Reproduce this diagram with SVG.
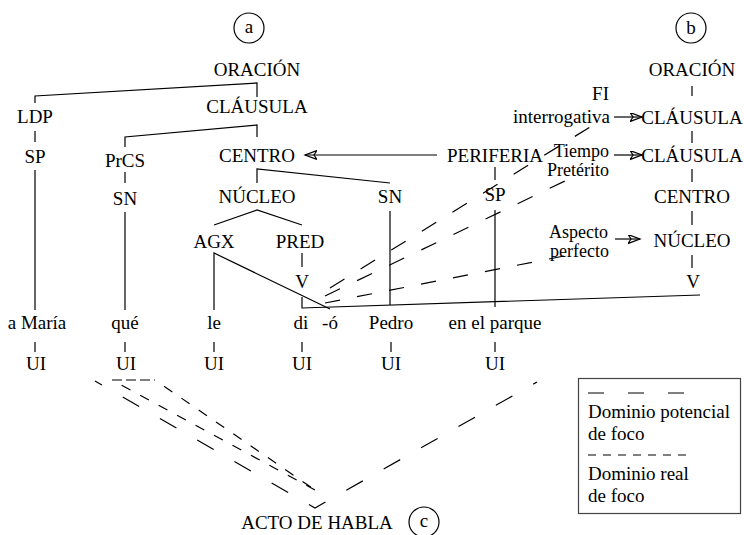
<svg xmlns="http://www.w3.org/2000/svg" width="744" height="535" viewBox="0 0 744 535">
<defs>
<marker id="ah" markerWidth="14" markerHeight="10" refX="12" refY="4.5" orient="auto" markerUnits="userSpaceOnUse"><path d="M0,0 L12,4.5 L0,9 L3,4.5 Z" fill="#000" stroke="none"/></marker>
</defs>
<style>
text{font-family:"Liberation Serif","Times New Roman",serif;font-size:19px;fill:#000}
.m{text-anchor:middle}
.e{text-anchor:end}
.s{font-size:18px}
line,path,polyline{fill:none;stroke:#000;stroke-width:1.2}
.circ{fill:none;stroke:#000;stroke-width:1.2}
.arr{marker-end:url(#ah)}
.real{stroke-dasharray:10 11;stroke-dashoffset:10}
</style>
<rect width="744" height="535" fill="#fff"/>
<g id="connectors">
<polyline points="35,103 35,96 257,83 257,97"/>
<polyline points="125,147 125,137 257,125 257,137"/>
<line x1="35" y1="131" x2="35" y2="142"/>
<line x1="35" y1="170" x2="35" y2="310"/>
<line x1="125" y1="172" x2="125" y2="183"/>
<line x1="125" y1="212" x2="125" y2="310"/>
<polyline points="257,183 257,169 390,183"/>
<polyline points="214,225 257,210 302,225"/>
<line x1="302" y1="253" x2="302" y2="267"/>
<polyline points="214,310 214,253 330,309"/>
<polyline points="302,297 302,308 700,295"/>
<line x1="390" y1="211" x2="390" y2="305"/>
<line x1="495" y1="167" x2="495" y2="180"/>
<line x1="495" y1="210" x2="495" y2="307"/>
<line x1="35" y1="342" x2="35" y2="352"/>
<line x1="125" y1="342" x2="125" y2="352"/>
<line x1="214" y1="342" x2="214" y2="352"/>
<line x1="302" y1="342" x2="302" y2="352"/>
<line x1="391" y1="342" x2="391" y2="352"/>
<line x1="495" y1="342" x2="495" y2="352"/>
<line class="arr" x1="437" y1="155" x2="305" y2="155"/>
<line x1="692" y1="86" x2="692" y2="96"/>
<line x1="692" y1="131" x2="692" y2="143"/>
<line x1="692" y1="169" x2="692" y2="182"/>
<line x1="692" y1="211" x2="692" y2="225"/>
<line x1="692" y1="255" x2="692" y2="268"/>
<line class="arr" x1="614" y1="117" x2="642" y2="117"/>
<line class="arr" x1="614" y1="155" x2="642" y2="155"/>
<line class="arr" x1="615" y1="239" x2="640" y2="239"/>
<path d="M330,288 L590,127" stroke-dasharray="17 19"/>
<path d="M325,296 L565,181" stroke-dasharray="16.6 19"/>
<path d="M325,303 L564,256" stroke-dasharray="15.3 17.3"/>
<path d="M95,381 L315,508 L537,382" stroke-dasharray="19 24" stroke-dashoffset="11"/>
<path d="M112,380 L155,380" stroke-dasharray="10 4"/>
<path class="real" d="M112,380 L315,490"/>
<path class="real" d="M155,380 L315,490"/>
</g>
<g id="label-a"><circle class="circ" cx="249" cy="28" r="15"/><text class="m" x="249" y="33">a</text></g>
<g id="label-b"><circle class="circ" cx="691" cy="28" r="15"/><text class="m" x="691" y="34">b</text></g>
<g id="label-c"><circle class="circ" cx="424" cy="522" r="15"/><text class="m" x="424" y="527">c</text></g>
<g id="oracion-a"><text class="m" x="257" y="76">ORACIÓN</text></g>
<g id="ldp"><text class="m" x="35" y="123">LDP</text></g>
<g id="clausula-a"><text class="m" x="257" y="113">CLÁUSULA</text></g>
<g id="sp-ldp"><text class="m" x="35" y="163">SP</text></g>
<g id="prcs"><text class="m" x="125" y="167">PrCS</text></g>
<g id="centro-a"><text class="m" x="257" y="162">CENTRO</text></g>
<g id="sn-prcs"><text class="m" x="125" y="205">SN</text></g>
<g id="nucleo-a"><text class="m" x="257" y="203">NÚCLEO</text></g>
<g id="sn-centro"><text class="m" x="390" y="203">SN</text></g>
<g id="periferia"><text class="m" x="495" y="162">PERIFERIA</text></g>
<g id="sp-periferia"><text class="m" x="495" y="201">SP</text></g>
<g id="agx"><text class="m" x="214" y="248">AGX</text></g>
<g id="pred"><text class="m" x="300" y="248">PRED</text></g>
<g id="v-a"><text class="m" x="302" y="288">V</text></g>
<g id="w-amaria"><text class="m" x="37" y="329">a María</text></g>
<g id="w-que"><text class="m" x="125" y="329">qué</text></g>
<g id="w-le"><text class="m" x="214" y="329">le</text></g>
<g id="w-di"><text class="m" x="301" y="329">di</text></g>
<g id="w-o"><text class="m" x="330" y="329">-ó</text></g>
<g id="w-pedro"><text class="m" x="391" y="329">Pedro</text></g>
<g id="w-parque"><text class="m" x="495" y="329">en el parque</text></g>
<g id="ui1"><text class="m" x="36" y="370">UI</text></g>
<g id="ui2"><text class="m" x="126" y="370">UI</text></g>
<g id="ui3"><text class="m" x="214" y="370">UI</text></g>
<g id="ui4"><text class="m" x="302" y="370">UI</text></g>
<g id="ui5"><text class="m" x="391" y="370">UI</text></g>
<g id="ui6"><text class="m" x="495" y="370">UI</text></g>
<g id="oracion-b"><text class="m" x="692" y="76">ORACIÓN</text></g>
<g id="clausula-b1"><text class="m" x="692" y="124">CLÁUSULA</text></g>
<g id="clausula-b2"><text class="m" x="692" y="162">CLÁUSULA</text></g>
<g id="centro-b"><text class="m" x="692" y="203">CENTRO</text></g>
<g id="nucleo-b"><text class="m" x="692" y="247">NÚCLEO</text></g>
<g id="v-b"><text class="m" x="693" y="288">V</text></g>
<g id="fi"><text class="e" x="609" y="100">FI</text><text class="e" x="610" y="123">interrogativa</text></g>
<g id="tiempo"><text class="e s" x="609" y="157">Tiempo</text><text class="e s" x="609" y="176">Pretérito</text></g>
<g id="aspecto"><text class="e s" x="608" y="238">Aspecto</text><text class="e s" x="609" y="257">perfecto</text></g>
<g id="acto"><text class="m" x="317" y="529">ACTO DE HABLA</text></g>
<g id="legend">
<rect x="578.5" y="378.5" width="162" height="135" fill="none" stroke="#444" stroke-width="1.2"/>
<path d="M588,393 L690,393" stroke-dasharray="16 24"/>
<text x="588" y="418">Dominio potencial</text>
<text x="588" y="440">de foco</text>
<path d="M588,455 L690,455" stroke-dasharray="8 7"/>
<text x="588" y="480">Dominio real</text>
<text x="588" y="502">de foco</text>
</g>
</svg>
